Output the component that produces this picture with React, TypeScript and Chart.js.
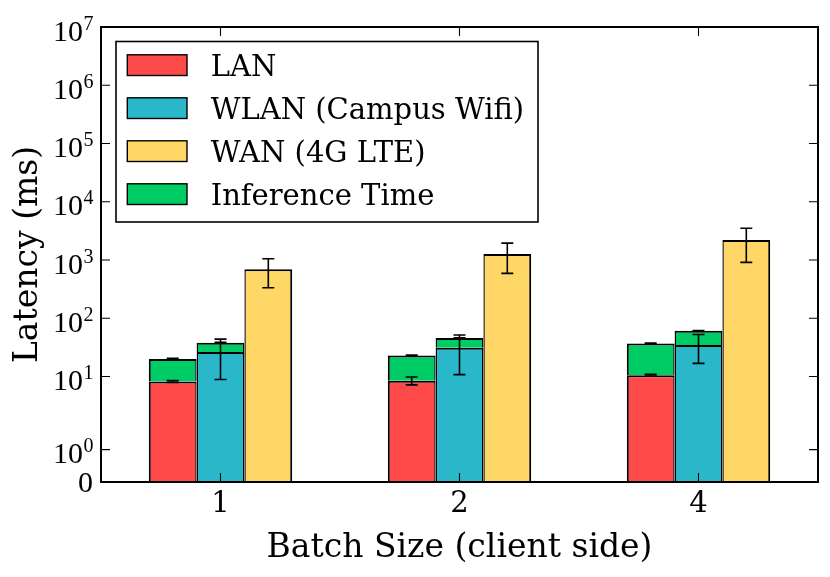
import React, { useEffect, useRef } from 'react';
import { Chart, registerables, Scale } from 'chart.js';

// ---------------- data ----------------
const categories = ['1', '2', '4'];
const seriesLabels = ['LAN', 'WLAN (Campus Wifi)', 'WAN (4G LTE)', 'Inference Time'];
const lanLatency = [8.2, 8.5, 10.5];
const lanError = [0.3, 1.3, 0.4];
const wlanLatency = [26.4, 31.3, 34.8];
const wlanError = [17.5, 20.5, 18];
const wanLatency = [695, 1270, 2210];
const wanError = [360, 680, 1300];
const inferenceTime = [11.8, 14.4, 26.6];
const inferenceError = [0.6, 0.6, 0.4];
const yTickValues = [0, 1, 10, 100, 1000, 10000, 100000, 1000000, 10000000];

const seriesColors = ['#FE4A49', '#2AB7CA', '#FED766', '#00CC66'];
const TEXT_FONT = '"DejaVu Serif", serif';
const MATH_FONT = '"Liberation Serif", "Times New Roman", serif';

// ---------------- symlog scale ----------------
const LINTHRESH = 2;
const LINSCALE = 1 / (1 - 1 / 10);
function symT(v: number) {
  const a = Math.abs(v);
  const s = v < 0 ? -1 : 1;
  if (a <= LINTHRESH) return (s * a * LINSCALE) / LINTHRESH;
  return s * (LINSCALE + Math.log10(a / LINTHRESH));
}
function symInv(t: number) {
  const a = Math.abs(t);
  const s = t < 0 ? -1 : 1;
  if (a <= LINSCALE) return (s * a * LINTHRESH) / LINSCALE;
  return s * LINTHRESH * Math.pow(10, a - LINSCALE);
}

class SymlogScale extends (Scale as any) {
  static id = 'symlog';
  static defaults = {};
  _t0 = 0;
  _t1 = 1;
  determineDataLimits() {
    const { min, max } = this.getMinMax(true);
    const o = this.options;
    this.min = o.min !== undefined ? o.min : min;
    this.max = o.max !== undefined ? o.max : max;
  }
  buildTicks() {
    return yTickValues.map((v) => ({ value: v }));
  }
  configure() {
    super.configure();
    this._t0 = symT(this.min);
    this._t1 = symT(this.max);
  }
  getLabelForValue(v: number) {
    return String(v);
  }
  getPixelForValue(v: number) {
    return this.getPixelForDecimal((symT(v) - this._t0) / (this._t1 - this._t0));
  }
  getValueForPixel(p: number) {
    return symInv(this._t0 + this.getDecimalForPixel(p) * (this._t1 - this._t0));
  }
  getPixelForTick(i: number) {
    const t = this.ticks[i];
    return t ? this.getPixelForValue(t.value) : null;
  }
}

Chart.register(...registerables, SymlogScale as any);

// ---------------- overlay plugin ----------------
const overlayPlugin = {
  id: 'mplOverlay',
  afterDatasetsDraw(chart: any) {
    const ctx = chart.ctx as CanvasRenderingContext2D;
    const ys = chart.scales.y;

    // error bars
    const errSets = [
      { ds: 0, center: (i: number) => lanLatency[i], err: lanError },
      { ds: 1, center: (i: number) => wlanLatency[i], err: wlanError },
      { ds: 2, center: (i: number) => wanLatency[i], err: wanError },
      { ds: 3, center: (i: number) => lanLatency[i] + inferenceTime[i], err: inferenceError },
      { ds: 4, center: (i: number) => wlanLatency[i] + inferenceTime[i], err: inferenceError },
    ];
    ctx.save();
    ctx.strokeStyle = '#000';
    ctx.lineWidth = 1.6;
    errSets.forEach((es) => {
      const meta = chart.getDatasetMeta(es.ds);
      meta.data.forEach((bar: any, i: number) => {
        const c = es.center(i);
        const e = es.err[i];
        const yHi = ys.getPixelForValue(c + e);
        const yLo = ys.getPixelForValue(Math.max(c - e, 0));
        const bx = bar.x;
        ctx.beginPath();
        ctx.moveTo(bx, yHi);
        ctx.lineTo(bx, yLo);
        ctx.moveTo(bx - 6, yHi);
        ctx.lineTo(bx + 6, yHi);
        ctx.moveTo(bx - 6, yLo);
        ctx.lineTo(bx + 6, yLo);
        ctx.stroke();
      });
    });
    ctx.restore();
  },
  afterDraw(chart: any) {
    const ctx = chart.ctx as CanvasRenderingContext2D;
    const { left, right, top, bottom } = chart.chartArea;
    const xs = chart.scales.x;
    const ys = chart.scales.y;
    ctx.save();

    // inward ticks
    ctx.strokeStyle = '#000';
    ctx.lineWidth = 1.1;
    const TL = 9;
    ys.ticks.forEach((t: any) => {
      const py = ys.getPixelForValue(t.value);
      ctx.beginPath();
      ctx.moveTo(left, py);
      ctx.lineTo(left + TL, py);
      ctx.moveTo(right, py);
      ctx.lineTo(right - TL, py);
      ctx.stroke();
    });
    xs.ticks.forEach((_t: any, i: number) => {
      const px = xs.getPixelForTick(i);
      ctx.beginPath();
      ctx.moveTo(px, bottom);
      ctx.lineTo(px, bottom - TL);
      ctx.moveTo(px, top);
      ctx.lineTo(px, top + TL);
      ctx.stroke();
    });

    // frame
    ctx.lineWidth = 2;
    ctx.strokeRect(left, top, right - left, bottom - top);

    // y tick labels (10^n)
    ctx.fillStyle = '#000';
    ctx.textBaseline = 'alphabetic';
    const labelRight = left - 8;
    ys.ticks.forEach((t: any) => {
      const py = ys.getPixelForValue(t.value);
      if (t.value === 0) {
        ctx.font = `30px ${MATH_FONT}`;
        ctx.textAlign = 'right';
        ctx.fillText('0', labelRight, py + 10);
        return;
      }
      const exp = String(Math.round(Math.log10(t.value)));
      ctx.font = `30px ${MATH_FONT}`;
      const wBase = ctx.measureText('10').width;
      ctx.font = `20px ${MATH_FONT}`;
      const wExp = ctx.measureText(exp).width;
      const x0 = labelRight - wBase - wExp;
      ctx.textAlign = 'left';
      ctx.font = `30px ${MATH_FONT}`;
      ctx.fillText('10', x0, py + 13.5);
      ctx.font = `20px ${MATH_FONT}`;
      ctx.fillText(exp, x0 + wBase + 0.5, py + 2.5);
    });

    // axis titles
    ctx.font = `33px ${TEXT_FONT}`;
    ctx.textAlign = 'center';
    ctx.fillText('Batch Size (client side)', (left + right) / 2, 557);
    ctx.save();
    ctx.translate(37, (top + bottom) / 2);
    ctx.rotate(-Math.PI / 2);
    ctx.fillText('Latency (ms)', 0, 0);
    ctx.restore();

    // legend
    const lx = left + 15;
    const ly = top + 14.5;
    const lw = 422;
    const lh = 180.5;
    ctx.fillStyle = '#fff';
    ctx.fillRect(lx, ly, lw, lh);
    ctx.strokeStyle = '#000';
    ctx.lineWidth = 1.6;
    ctx.strokeRect(lx, ly, lw, lh);
    ctx.font = `29px ${TEXT_FONT}`;
    ctx.textAlign = 'left';
    for (let k = 0; k < 4; k++) {
      const ds = chart.data.datasets[k];
      const cy = ly + 23.6 + k * 43;
      ctx.fillStyle = ds.backgroundColor;
      ctx.fillRect(lx + 11.3, cy - 10.3, 59.7, 20.7);
      ctx.lineWidth = 1.4;
      ctx.strokeStyle = '#000';
      ctx.strokeRect(lx + 11.3, cy - 10.3, 59.7, 20.7);
      ctx.fillStyle = '#000';
      ctx.fillText(ds.label, lx + 94.7, cy + 10.5);
    }
    ctx.restore();
  },
};

// ---------------- component ----------------
export default function App() {
  const canvasRef = useRef<HTMLCanvasElement | null>(null);

  useEffect(() => {
    if (!canvasRef.current) return;
    const bw = (l: number, r: number) => ({ top: 2, bottom: 0, left: l, right: r });
    const common = {
      borderColor: '#000',
      borderSkipped: false as const,
      inflateAmount: 0,
      categoryPercentage: 0.6,
      barPercentage: 1.0,
    };
    const chart = new Chart(canvasRef.current, {
      type: 'bar',
      data: {
        labels: categories,
        datasets: [
          { ...common, label: seriesLabels[0], data: lanLatency, backgroundColor: seriesColors[0], stack: 'lan', borderWidth: bw(2, 1.4) },
          { ...common, label: seriesLabels[1], data: wlanLatency, backgroundColor: seriesColors[1], stack: 'wlan', borderWidth: bw(1.4, 1.4) },
          { ...common, label: seriesLabels[2], data: wanLatency, backgroundColor: seriesColors[2], stack: 'wan', borderWidth: bw(1.4, 2) },
          { ...common, label: seriesLabels[3], data: inferenceTime, backgroundColor: seriesColors[3], stack: 'lan', borderWidth: bw(2, 1.4) },
          { ...common, label: seriesLabels[3], data: inferenceTime, backgroundColor: seriesColors[3], stack: 'wlan', borderWidth: bw(1.4, 1.4) },
        ] as any,
      },
      options: {
        animation: false,
        responsive: false,
        layout: { padding: { top: 27, right: 12, left: 0, bottom: 0 } },
        plugins: { legend: { display: false }, tooltip: { enabled: false } },
        scales: {
          x: {
            stacked: true,
            grid: { display: false, drawTicks: false },
            border: { display: false },
            ticks: { color: '#000', padding: 5, font: { family: TEXT_FONT, size: 29 } },
            afterFit: (s: any) => {
              s.height = 95;
            },
          },
          y: {
            type: 'symlog' as any,
            stacked: true,
            min: 0,
            max: 10000000,
            grid: { display: false, drawTicks: false },
            border: { display: false },
            ticks: { display: false },
            afterFit: (s: any) => {
              s.width = 101;
            },
          } as any,
        },
      },
      plugins: [overlayPlugin],
    });
    return () => chart.destroy();
  }, []);

  return (
    <div style={{ position: 'absolute', left: 0, top: 0, width: 830, height: 577, background: '#fff' }}>
      <canvas ref={canvasRef} width={830} height={577} style={{ display: 'block', width: 830, height: 577 }} />
    </div>
  );
}
